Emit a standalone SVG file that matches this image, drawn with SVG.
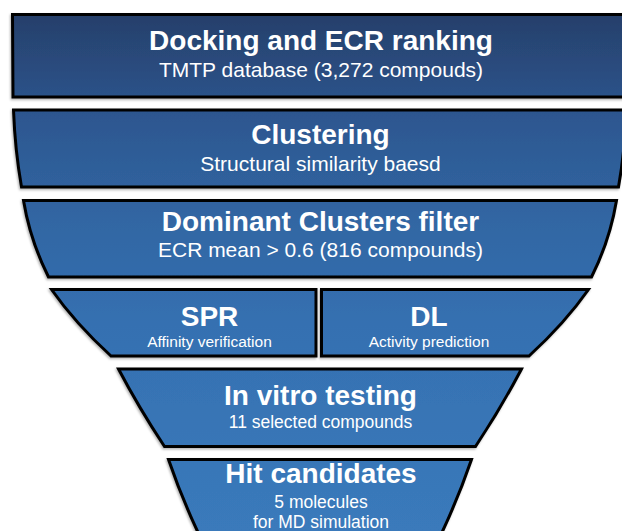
<svg xmlns="http://www.w3.org/2000/svg" width="622" height="531" viewBox="0 0 622 531">
<defs>
<linearGradient id="g" gradientUnits="userSpaceOnUse" x1="0" y1="13" x2="0" y2="531">
<stop offset="0" stop-color="#263f6a"/>
<stop offset="0.2" stop-color="#2d5790"/>
<stop offset="0.4" stop-color="#3166a3"/>
<stop offset="0.6" stop-color="#3570b1"/>
<stop offset="1" stop-color="#3a7abb"/>
</linearGradient>
<filter id="sh" x="-5%" y="-5%" width="110%" height="115%">
<feDropShadow dx="-1" dy="1.5" stdDeviation="1" flood-color="#000" flood-opacity="0.3"/>
</filter>
</defs>
<style>
.band{fill:url(#g);stroke:#000;stroke-width:3;stroke-linejoin:miter;filter:url(#sh)}
.t{font-family:"Liberation Sans",Arial,sans-serif;font-weight:bold;font-size:28px;fill:#fff;text-anchor:middle}
.s{font-family:"Liberation Sans",Arial,sans-serif;font-size:21px;fill:#fff;text-anchor:middle}
.s2{font-family:"Liberation Sans",Arial,sans-serif;font-size:17.5px;fill:#fff;text-anchor:middle}
.s3{font-family:"Liberation Sans",Arial,sans-serif;font-size:15.5px;fill:#fff;text-anchor:middle}
</style>
<rect width="622" height="531" fill="#fff"/>
<g id="connectors"></g>
<g id="docking">
<path class="band" d="M12.5 14.5 L627.5 14.5 L627 97 L13 97 Z"/>
<text class="t" x="321" y="50">Docking and ECR ranking</text>
<text class="s" x="321" y="77">TMTP database (3,272 compouds)</text>
</g>
<g id="clustering">
<path class="band" d="M13.5 110 L626.5 110 Q625 150 618.5 187 L21.5 187 Q15 150 13.5 110 Z"/>
<text class="t" x="320.5" y="144">Clustering</text>
<text class="s" x="320.5" y="171">Structural similarity baesd</text>
</g>
<g id="dominant">
<path class="band" d="M23.5 200.5 L616.5 200.5 Q610 240 591.5 277 L48.5 277 Q30 240 23.5 200.5 Z"/>
<text class="t" x="320.5" y="231">Dominant Clusters filter</text>
<text class="s" x="320.5" y="257">ECR mean &gt; 0.6 (816 compounds)</text>
</g>
<g id="spr">
<path class="band" d="M51.5 289.5 L316 289.5 L316 356 L111 356 Q75 323 51.5 289.5 Z"/>
<text class="t" x="209.5" y="326">SPR</text>
<text class="s3" x="209.5" y="347">Affinity verification</text>
</g>
<g id="dl">
<path class="band" d="M321.5 289.5 L588.5 289.5 Q565 323 529 356 L321.5 356 Z"/>
<text class="t" x="429" y="326">DL</text>
<text class="s3" x="429" y="347">Activity prediction</text>
</g>
<g id="invitro">
<path class="band" d="M118.5 369 L521.5 369 Q501 408 475.5 446.5 L164.5 446.5 Q139 408 118.5 369 Z"/>
<text class="t" x="320.5" y="405">In vitro testing</text>
<text class="s2" x="320.5" y="428">11 selected compounds</text>
</g>
<g id="hit">
<path class="band" d="M168.5 459.5 L471.5 459.5 Q457 502 436 545 L204 545 Q183 502 168.5 459.5 Z"/>
<text class="t" x="321" y="483">Hit candidates</text>
<text class="s2" x="321" y="508">5 molecules</text>
<text class="s2" x="321" y="528">for MD simulation</text>
</g>
</svg>
